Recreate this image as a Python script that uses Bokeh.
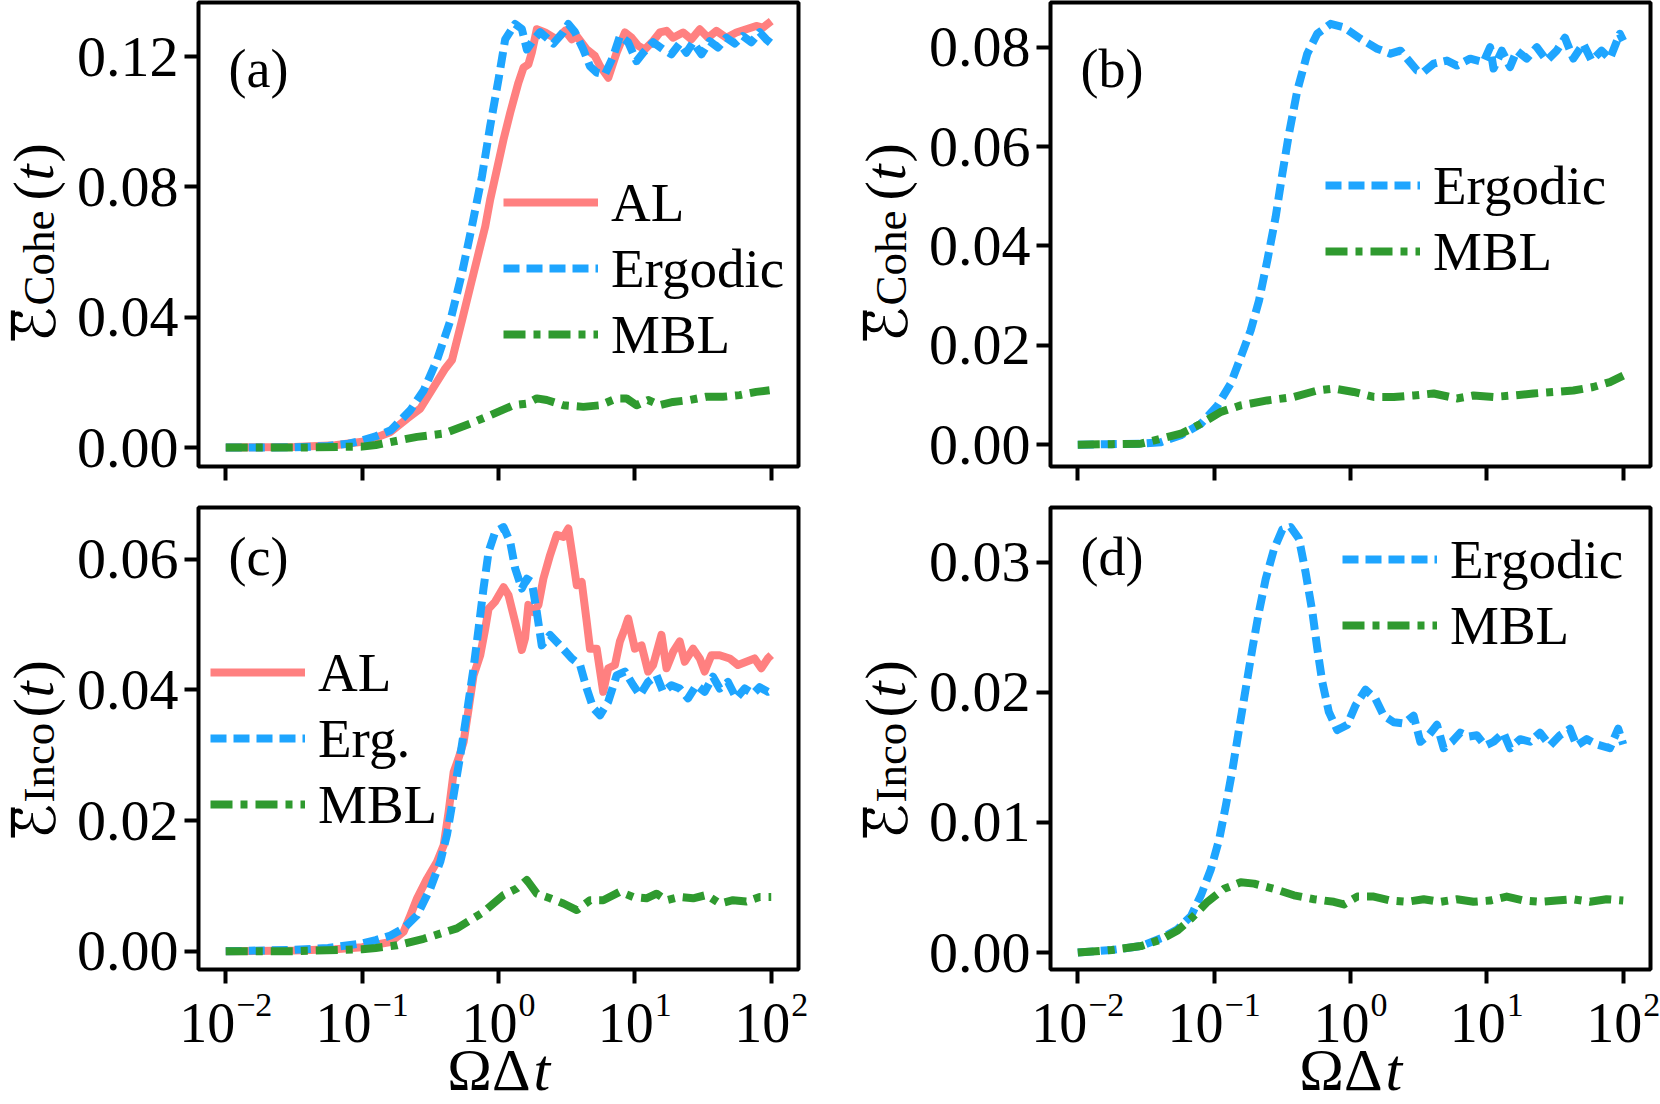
import math
from bokeh.plotting import figure
from bokeh.models import Range1d, FixedTicker, NumeralTickFormatter, Label, Legend, LegendItem
from bokeh.layouts import column, row
from bokeh.embed import file_html
from bokeh.resources import INLINE
from bokeh.core.validation import silence
from bokeh.core.validation.warnings import MISSING_RENDERERS

silence(MISSING_RENDERERS, True)

# ---------------- data: x given as log10(ΩΔt), y as mean error ----------------
X_TICKS = [0.01, 0.1, 1, 10, 100]

# (a) coherent error
a_erg_lt = [-2.0, -1.5, -1.25, -1.1, -1.0, -0.9, -0.79, -0.646, -0.548, -0.451, -0.353, -0.268, -0.195,
            -0.121, -0.061, 0.0, 0.049, 0.122, 0.171, 0.208, 0.244, 0.305, 0.402, 0.475, 0.512, 0.561,
            0.622, 0.671, 0.72, 0.78, 0.841, 0.89, 0.951, 1.012, 1.061, 1.134, 1.207, 1.268, 1.329,
            1.378, 1.427, 1.488, 1.549, 1.61, 1.671, 1.732, 1.792, 1.854, 1.915, 1.963, 2.0]
a_erg_v = [0.0, 0.0001, 0.0005, 0.0012, 0.0022, 0.0035, 0.0053, 0.0115, 0.0176, 0.0269, 0.039, 0.0535,
           0.0679, 0.0833, 0.0987, 0.113, 0.1253, 0.130, 0.1285, 0.1222, 0.1244, 0.1275, 0.124, 0.1275,
           0.130, 0.1275, 0.1222, 0.117, 0.1151, 0.1145, 0.120, 0.1263, 0.1244, 0.1186, 0.1212, 0.1244,
           0.1222, 0.1207, 0.124, 0.1212, 0.1244, 0.1207, 0.1247, 0.1228, 0.1258, 0.124, 0.1263, 0.1244,
           0.1275, 0.1253, 0.124]
a_al_lt = [-2.0, -1.5, -1.2, -1.0, -0.9, -0.792, -0.67, -0.573, -0.475, -0.39, -0.341, -0.268, -0.207,
           -0.146, -0.097, -0.061, -0.012, 0.037, 0.086, 0.146, 0.183, 0.219, 0.244, 0.281, 0.342, 0.427,
           0.488, 0.537, 0.574, 0.647, 0.707, 0.744, 0.805, 0.866, 0.927, 0.976, 1.024, 1.073, 1.134,
           1.183, 1.232, 1.28, 1.353, 1.415, 1.476, 1.537, 1.598, 1.671, 1.744, 1.817, 1.89, 1.939, 2.0]
a_al_v = [0.0, 0.0002, 0.0007, 0.0018, 0.003, 0.0048, 0.0089, 0.012, 0.0186, 0.0243, 0.0269, 0.039,
          0.0494, 0.0597, 0.0679, 0.0761, 0.0853, 0.0946, 0.1028, 0.112, 0.1166, 0.1176, 0.1212, 0.1284,
          0.1274, 0.1253, 0.1279, 0.1253, 0.1263, 0.1222, 0.1202, 0.1171, 0.1135, 0.1212, 0.1274, 0.1258,
          0.1233, 0.1222, 0.1248, 0.1274, 0.1279, 0.1258, 0.1274, 0.1253, 0.1284, 0.1258, 0.1279, 0.1258,
          0.1274, 0.1284, 0.1294, 0.1289, 0.1309]
a_mbl_lt = [-2.0, -1.5, -1.0, -0.9, -0.792, -0.597, -0.402, -0.207, -0.061, 0.11, 0.208, 0.281, 0.354,
            0.476, 0.622, 0.744, 0.866, 0.939, 1.012, 1.097, 1.183, 1.28, 1.402, 1.524, 1.646, 1.768,
            1.89, 1.988]
a_mbl_v = [0.0, 0.0, 0.0003, 0.0008, 0.0017, 0.0033, 0.0043, 0.0074, 0.0099, 0.013, 0.0135, 0.0151,
           0.0146, 0.013, 0.0125, 0.013, 0.0151, 0.0151, 0.013, 0.0146, 0.013, 0.014, 0.0146, 0.0156,
           0.0156, 0.0161, 0.0171, 0.0176]

# (b) coherent error
b_erg_lt = [-2.0, -1.75, -1.536, -1.39, -1.244, -1.097, -0.975, -0.878, -0.805, -0.732, -0.671, -0.61,
            -0.549, -0.5, -0.451, -0.39, -0.317, -0.244, -0.146, -0.049, 0.073, 0.195, 0.293, 0.366,
            0.415, 0.488, 0.536, 0.61, 0.707, 0.78, 0.878, 0.975, 1.024, 1.049, 1.11, 1.17, 1.219,
            1.292, 1.366, 1.439, 1.512, 1.573, 1.634, 1.707, 1.768, 1.841, 1.902, 1.975, 2.0]
b_erg_v = [0.0, 0.0001, 0.0002, 0.0005, 0.0019, 0.0042, 0.0079, 0.0123, 0.0176, 0.023, 0.029, 0.0371,
           0.0458, 0.0545, 0.0626, 0.0713, 0.0787, 0.0827, 0.0847, 0.084, 0.0817, 0.0797, 0.0787, 0.0793,
           0.0777, 0.0753, 0.075, 0.0767, 0.0773, 0.0763, 0.0777, 0.077, 0.08, 0.0757, 0.0793, 0.076,
           0.0793, 0.0777, 0.08, 0.0773, 0.0793, 0.0819, 0.0777, 0.0807, 0.0773, 0.0793, 0.0777, 0.0827,
           0.0813]
b_mbl_lt = [-2.0, -1.75, -1.536, -1.244, -1.097, -0.951, -0.805, -0.61, -0.415, -0.244, -0.122, 0.024,
            0.171, 0.317, 0.463, 0.61, 0.78, 0.902, 1.049, 1.195, 1.341, 1.488, 1.634, 1.78, 1.902, 2.0]
b_mbl_v = [0.0, 0.0001, 0.0002, 0.0022, 0.0042, 0.0066, 0.0079, 0.0089, 0.0096, 0.0109, 0.0113, 0.0106,
           0.0096, 0.0096, 0.0099, 0.0103, 0.0093, 0.0099, 0.0096, 0.0099, 0.0103, 0.0106, 0.0109, 0.0116,
           0.0126, 0.0139]

# (c) incoherent error
c_erg_lt = [-2.0, -1.5, -1.25, -1.0, -0.9, -0.792, -0.695, -0.597, -0.5, -0.427, -0.378, -0.329, -0.28,
            -0.231, -0.183, -0.146, -0.11, -0.073, -0.024, 0.037, 0.086, 0.122, 0.171, 0.208, 0.244,
            0.281, 0.317, 0.378, 0.451, 0.537, 0.598, 0.647, 0.695, 0.744, 0.805, 0.866, 0.927, 0.988,
            1.037, 1.097, 1.159, 1.207, 1.268, 1.329, 1.39, 1.451, 1.512, 1.573, 1.622, 1.683, 1.744,
            1.805, 1.866, 1.915, 1.975, 2.0]
c_erg_v = [0.0, 0.0002, 0.0005, 0.0012, 0.0017, 0.0024, 0.0035, 0.0055, 0.0096, 0.0137, 0.0178, 0.0239,
           0.03, 0.0366, 0.0433, 0.0494, 0.0555, 0.0611, 0.0642, 0.0649, 0.0626, 0.0586, 0.0555, 0.057,
           0.0565, 0.0519, 0.0468, 0.0484, 0.0468, 0.0448, 0.0438, 0.0402, 0.0372, 0.0361, 0.0382, 0.0422,
           0.0428, 0.0407, 0.0392, 0.0412, 0.0422, 0.0397, 0.0407, 0.0402, 0.0387, 0.0407, 0.0397, 0.042,
           0.0402, 0.0412, 0.0387, 0.0402, 0.0394, 0.0404, 0.0397, 0.040]
c_al_lt = [-2.0, -1.5, -1.2, -1.0, -0.9, -0.792, -0.695, -0.646, -0.597, -0.524, -0.451, -0.402, -0.366,
           -0.329, -0.293, -0.256, -0.219, -0.183, -0.134, -0.097, -0.073, -0.024, 0.037, 0.073, 0.122,
           0.171, 0.195, 0.219, 0.256, 0.293, 0.329, 0.378, 0.427, 0.476, 0.512, 0.549, 0.574, 0.61,
           0.647, 0.671, 0.72, 0.768, 0.805, 0.854, 0.89, 0.927, 0.951, 1.0, 1.049, 1.097, 1.134, 1.195,
           1.232, 1.28, 1.329, 1.366, 1.427, 1.476, 1.512, 1.561, 1.622, 1.695, 1.756, 1.817, 1.878,
           1.927, 1.975, 2.0]
c_al_v = [0.0, 0.0001, 0.0003, 0.0006, 0.001, 0.0014, 0.003, 0.0055, 0.0081, 0.0111, 0.0137, 0.0162,
          0.0213, 0.0274, 0.0295, 0.032, 0.0371, 0.0422, 0.0453, 0.0494, 0.0524, 0.0535, 0.0557, 0.0545,
          0.0504, 0.0461, 0.0479, 0.053, 0.0519, 0.053, 0.057, 0.0606, 0.0637, 0.0634, 0.0647, 0.0596,
          0.056, 0.0565, 0.0504, 0.0463, 0.0463, 0.0397, 0.0433, 0.0438, 0.0474, 0.0494, 0.0509, 0.0463,
          0.0468, 0.0428, 0.0438, 0.0484, 0.0433, 0.0458, 0.0474, 0.0443, 0.0463, 0.0448, 0.0428, 0.0453,
          0.0453, 0.0448, 0.0438, 0.0443, 0.0448, 0.0433, 0.0448, 0.0453]
c_mbl_lt = [-2.0, -1.5, -1.0, -0.9, -0.744, -0.549, -0.305, -0.11, 0.037, 0.134, 0.208, 0.281, 0.378,
            0.476, 0.574, 0.671, 0.768, 0.89, 0.988, 1.085, 1.159, 1.232, 1.329, 1.427, 1.524, 1.622,
            1.719, 1.817, 1.915, 2.0]
c_mbl_v = [0.0, 0.0, 0.0003, 0.0005, 0.0009, 0.0019, 0.0035, 0.006, 0.0086, 0.0096, 0.0109, 0.0088,
           0.0081, 0.0073, 0.0063, 0.0078, 0.0078, 0.0091, 0.0083, 0.0081, 0.0088, 0.0078, 0.0083, 0.0081,
           0.0086, 0.0073, 0.0078, 0.0076, 0.0083, 0.0083]

# (d) incoherent error
d_erg_lt = [-2.0, -1.75, -1.536, -1.39, -1.268, -1.17, -1.097, -1.024, -0.963, -0.914, -0.865, -0.817,
            -0.768, -0.719, -0.671, -0.622, -0.561, -0.5, -0.439, -0.378, -0.329, -0.28, -0.244, -0.207,
            -0.159, -0.097, -0.024, 0.037, 0.11, 0.183, 0.244, 0.317, 0.39, 0.463, 0.512, 0.573, 0.634,
            0.683, 0.744, 0.805, 0.866, 0.927, 0.988, 1.049, 1.122, 1.17, 1.244, 1.317, 1.39, 1.463,
            1.536, 1.609, 1.658, 1.732, 1.805, 1.902, 1.963, 2.0]
d_erg_v = [0.0, 0.0002, 0.0005, 0.0011, 0.0018, 0.0028, 0.0044, 0.0064, 0.0087, 0.0113, 0.0141, 0.0172,
           0.0203, 0.0234, 0.0262, 0.0287, 0.031, 0.0325, 0.0327, 0.0318, 0.0292, 0.0262, 0.0234, 0.0208,
           0.0185, 0.0171, 0.0175, 0.019, 0.0202, 0.0195, 0.0182, 0.0177, 0.0176, 0.0182, 0.0162, 0.0167,
           0.0175, 0.0157, 0.0162, 0.0169, 0.0166, 0.0167, 0.0159, 0.0162, 0.0169, 0.0157, 0.0164, 0.0162,
           0.0169, 0.0159, 0.0167, 0.0172, 0.0159, 0.0164, 0.016, 0.0157, 0.0172, 0.016]
d_mbl_lt = [-2.0, -1.75, -1.536, -1.39, -1.268, -1.17, -1.049, -0.927, -0.805, -0.707, -0.561, -0.415,
            -0.268, -0.122, -0.049, 0.049, 0.171, 0.293, 0.415, 0.537, 0.658, 0.78, 0.902, 1.024, 1.146,
            1.268, 1.39, 1.512, 1.634, 1.756, 1.878, 2.0]
d_mbl_v = [0.0, 0.0002, 0.0005, 0.001, 0.0017, 0.0026, 0.0039, 0.0049, 0.0054, 0.0053, 0.0049, 0.0044,
           0.0041, 0.0039, 0.0037, 0.0043, 0.0043, 0.004, 0.0039, 0.0041, 0.0039, 0.0041, 0.0039, 0.004,
           0.0043, 0.004, 0.0039, 0.004, 0.0041, 0.0039, 0.0041, 0.004]

A_YTICKS = [0.0, 0.04, 0.08, 0.12]
B_YTICKS = [0.0, 0.02, 0.04, 0.06, 0.08]
C_YTICKS = [0.0, 0.02, 0.04, 0.06]
D_YTICKS = [0.0, 0.01, 0.02, 0.03]

# ---------------- styling / geometry ----------------
FONT = "Liberation Serif"
RED = "#ff8080"
BLUE = "#1ea5ff"
GREEN = "#2f9a2f"
LW = 8
DASH = "16 7"
DASHDOT = "22 8 7 8"
K = 0.36                      # centre-to-baseline offset (in em) for text_baseline="middle"
ROT_K = 0.38                  # empirical along-text correction for rotated labels (in em)

FW = 600                      # frame width of each panel
PXD = FW / 4.4                # pixels per decade
TOP_H, BOT_H = 464, 462       # frame heights
ROW1_H, ROW2_H = 486, 499
ROW3_H = 1104 - ROW1_H - ROW2_H
LA_W, LB_W = 70, 110
PA_W, PB_W = 740, 740

# offsets (px below the frame centre) where the pieces of the vertical titles start
COHE_OFFS = (105.5, 74, -36)
INCO_OFFS = (94.5, 63, -27)


def tvals(lt):
    return [10 ** v for v in lt]


def style_axis(ax, ticks):
    ax.ticker = FixedTicker(ticks=ticks, minor_ticks=[])
    ax.axis_line_color = None
    ax.major_tick_line_color = "black"
    ax.major_tick_line_width = 4
    ax.major_tick_out = 14
    ax.major_tick_in = 0
    ax.minor_tick_line_color = None
    ax.major_label_text_font = FONT
    ax.major_label_text_font_size = "58px"
    ax.major_label_text_color = "black"


def make_panel(w, bl, br, bt, bb, fh, yr, yticks):
    p = figure(width=w, height=bt + fh + bb, x_axis_type="log",
               x_range=Range1d(10 ** -2.2, 10 ** 2.2), y_range=Range1d(yr[0], yr[1]),
               output_backend="svg", toolbar_location=None,
               min_border_left=bl, min_border_right=br, min_border_top=bt, min_border_bottom=bb)
    p.xgrid.visible = False
    p.ygrid.visible = False
    p.outline_line_color = "black"
    p.outline_line_width = 4
    p.outline_line_alpha = 1.0
    p.border_fill_color = "white"
    p.background_fill_color = "white"
    xa = p.xaxis[0]
    ya = p.yaxis[0]
    style_axis(xa, X_TICKS)
    style_axis(ya, yticks)
    ya.formatter = NumeralTickFormatter(format="0.00")
    ya.major_label_standoff = 6
    # x tick labels are drawn separately (strip below the bottom panels)
    xa.major_label_overrides = {v: "" for v in X_TICKS}
    xa.major_label_text_font_size = "0px"
    xa.major_label_standoff = 0
    return p


def blank_fig(w, h, xr=None, log=False):
    f = figure(width=w, height=h, x_axis_type="log" if log else "linear",
               x_range=xr if xr is not None else Range1d(0, 1), y_range=Range1d(0, 1),
               x_axis_location=None, y_axis_location=None,
               toolbar_location=None, output_backend="svg", min_border=0, outline_line_color=None)
    f.xgrid.visible = False
    f.ygrid.visible = False
    f.border_fill_color = "white"
    f.background_fill_color = "white"
    return f


def add_line(p, lt, v, color, dash):
    return p.line(tvals(lt), v, line_color=color, line_width=LW, line_dash=dash, line_join="round")


def add_legend(p, entries, loc):
    leg = Legend(items=[LegendItem(label=lab_, renderers=[r]) for lab_, r in entries],
                 location=loc, orientation="vertical",
                 glyph_width=95, glyph_height=66, label_height=66, spacing=0, padding=0, margin=0,
                 label_standoff=13, border_line_color=None, background_fill_alpha=0,
                 label_text_font=FONT, label_text_font_size="55px", label_text_color="black")
    p.add_layout(leg)


def lab(p, x, y, text, size, font=FONT, style="normal", align="left", angle=0.0,
        x_units="screen", x_offset=0.0):
    p.add_layout(Label(x=x, y=y, x_units=x_units, y_units="screen", x_offset=x_offset,
                       text=text, text_font=font, text_font_size="%dpx" % size,
                       text_font_style=style, text_align=align, text_baseline="middle",
                       angle=angle, text_color="black"))


def ylabel(f, fig_x0, fig_y0, fig_h, frame_left, cy, sub, offs):
    """Vertical title  Ē_sub(t)  drawn in a side figure; geometry in page pixels."""
    e_off, s_off, p_off = offs
    e_size, s_size, p_size = 58, 45, 58

    def xs(ax):
        return ax - fig_x0

    def ys(ay, size):
        return fig_h - (ay - fig_y0) - ROT_K * size

    a = math.pi / 2
    xe = xs(frame_left - 143 - K * e_size)
    lab(f, xe, ys(cy + e_off, e_size), "\u2130", e_size, font="DejaVu Sans", angle=a)
    lab(f, xe, ys(cy + e_off - 2, e_size), "\u203e", e_size, font="DejaVu Sans", angle=a)
    lab(f, xs(frame_left - 143 - K * s_size), ys(cy + s_off, s_size), sub, s_size, angle=a)
    xp = xs(frame_left - 144 - K * p_size)
    y0 = ys(cy + p_off, p_size)
    lab(f, xp, y0, "(", p_size, angle=a)
    lab(f, xp, y0 + 20, "t", p_size, style="italic", angle=a)
    lab(f, xp, y0 + 38, ")", p_size, angle=a)


def xstrip(f, fig_x0, frame_left):
    """Log tick labels 10^n and the axis title ΩΔt; page-pixel geometry."""
    base_size, exp_size = 56, 34
    y_base = 1104 - (1043 - K * base_size)
    y_exp = 1104 - (1017 - K * exp_size)
    for v in X_TICKS:
        e = int(round(math.log10(v)))
        etxt = ("\u2212" if e < 0 else "") + str(abs(e))
        exp_w = exp_size * (0.5 * len(str(abs(e))) + (0.564 if e < 0 else 0.0))
        w = base_size + 1 + exp_w
        lab(f, v, y_base, "10", base_size, x_units="data", x_offset=-w / 2)
        lab(f, v, y_exp, etxt, exp_size, x_units="data", x_offset=-w / 2 + base_size + 1)
    xc = frame_left + FW / 2 + 32 - fig_x0
    y_t = 1104 - (1091 - K * 60)
    lab(f, xc, y_t, "ΩΔ", 60, align="right")
    lab(f, xc + 3, y_t, "t", 60, style="italic", align="left")


# ---------------- panels ----------------
pa = make_panel(PA_W, 128, 12, 2, 20, TOP_H, (-0.0058, 0.1366), A_YTICKS)
r1 = add_line(pa, a_al_lt, a_al_v, RED, "solid")
r2 = add_line(pa, a_erg_lt, a_erg_v, BLUE, DASH)
r3 = add_line(pa, a_mbl_lt, a_mbl_v, GREEN, DASHDOT)
add_legend(pa, [("AL", r1), ("Ergodic", r2), ("MBL", r3)], (305, 99))
lab(pa, 30, TOP_H - (86 - K * 54), "(a)", 54)

pb = make_panel(PB_W, 130, 10, 2, 20, TOP_H, (-0.0044, 0.089), B_YTICKS)
r2 = add_line(pb, b_erg_lt, b_erg_v, BLUE, DASH)
r3 = add_line(pb, b_mbl_lt, b_mbl_v, GREEN, DASHDOT)
add_legend(pb, [("Ergodic", r2), ("MBL", r3)], (275, 182))
lab(pb, 30, TOP_H - (86 - K * 54), "(b)", 54)

pc = make_panel(PA_W, 128, 12, 21, 16, BOT_H, (-0.0028, 0.0679), C_YTICKS)
r1 = add_line(pc, c_al_lt, c_al_v, RED, "solid")
r2 = add_line(pc, c_erg_lt, c_erg_v, BLUE, DASH)
r3 = add_line(pc, c_mbl_lt, c_mbl_v, GREEN, DASHDOT)
add_legend(pc, [("AL", r1), ("Erg.", r2), ("MBL", r3)], (12, 132))
lab(pc, 30, BOT_H - (69 - K * 54), "(c)", 54)

pd = make_panel(PB_W, 130, 10, 21, 16, BOT_H, (-0.0013, 0.0342), D_YTICKS)
r2 = add_line(pd, d_erg_lt, d_erg_v, BLUE, DASH)
r3 = add_line(pd, d_mbl_lt, d_mbl_v, GREEN, DASHDOT)
add_legend(pd, [("Ergodic", r2), ("MBL", r3)], (292, 311))
lab(pd, 30, BOT_H - (69 - K * 54), "(d)", 54)

# side figures holding the vertical axis titles
la = blank_fig(LA_W, ROW1_H)
ylabel(la, 0, 0, ROW1_H, 198, 234, "Cohe", COHE_OFFS)
lb = blank_fig(LB_W, ROW1_H)
ylabel(lb, LA_W + PA_W, 0, ROW1_H, 1050, 234, "Cohe", COHE_OFFS)
lc = blank_fig(LA_W, ROW2_H)
ylabel(lc, 0, ROW1_H, ROW2_H, 198, 738, "Inco", INCO_OFFS)
ld = blank_fig(LB_W, ROW2_H)
ylabel(ld, LA_W + PA_W, ROW1_H, ROW2_H, 1050, 738, "Inco", INCO_OFFS)

# strips below the bottom panels: tick labels and x titles (same log scale as the panels)
sc = blank_fig(810, ROW3_H, Range1d(10 ** (-2.2 - 198 / PXD), 10 ** (2.2 + 12 / PXD)), log=True)
xstrip(sc, 0, 198)
sd = blank_fig(850, ROW3_H, Range1d(10 ** (-2.2 - 240 / PXD), 10 ** (2.2 + 10 / PXD)), log=True)
xstrip(sd, 810, 1050)

layout = column(row(la, pa, lb, pb, spacing=0),
                row(lc, pc, ld, pd, spacing=0),
                row(sc, sd, spacing=0), spacing=0)
open("out.html", "w").write(file_html(layout, INLINE, title="error vs time"))
